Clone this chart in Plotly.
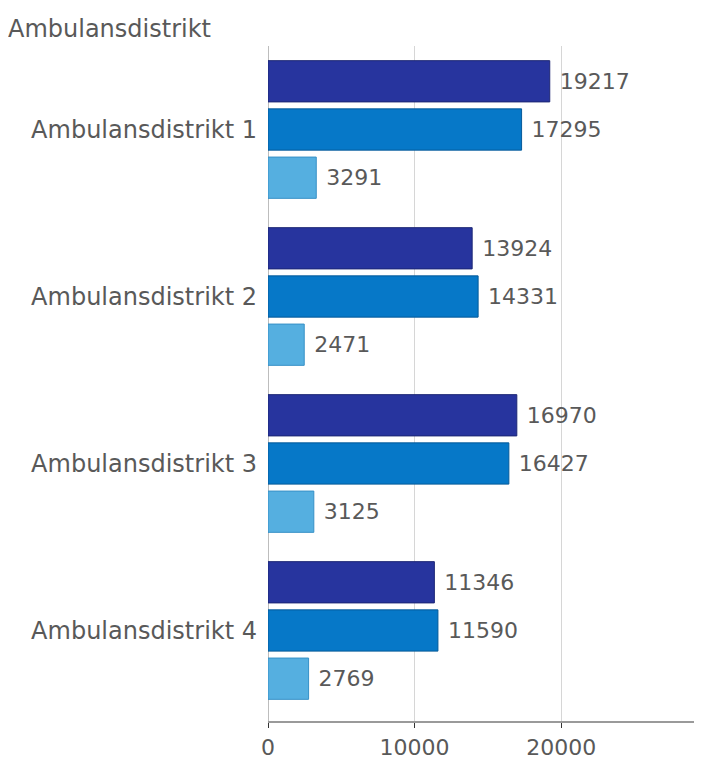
import plotly.graph_objects as go

categories = ["Ambulansdistrikt 1", "Ambulansdistrikt 2", "Ambulansdistrikt 3", "Ambulansdistrikt 4"]
series_a = [19217, 13924, 16970, 11346]
series_b = [17295, 14331, 16427, 11590]
series_c = [3291, 2471, 3125, 2769]
tick_vals = [0, 10000, 20000]
tick_text = ["0", "10000", "20000"]
title_text = "Ambulansdistrikt"

colors = ["#27349e", "#0678c8", "#55afe0"]
edge = ["#1c2675", "#055a99", "#3690c6"]
FONT = "DejaVu Sans, sans-serif"
TXT = "#595959"

fig = go.Figure()
for vals, c, e in zip([series_a, series_b, series_c], colors, edge):
    fig.add_trace(go.Bar(
        y=categories, x=vals, orientation="h",
        marker=dict(color=c, line=dict(color=e, width=1)),
        text=[str(v) for v in vals], texttemplate=" %{text}", textposition="outside",
        textfont=dict(size=22, color=TXT, family=FONT),
        cliponaxis=False, showlegend=False, hoverinfo="x+y",
    ))

# page body has an 8px margin: figure is 694x752, offset by 8px
fig.update_layout(
    width=694, height=752,
    margin=dict(l=260, r=0, t=38, b=35),
    barmode="group", bargap=0.134, bargroupgap=0.144,
    plot_bgcolor="white", paper_bgcolor="white",
    font=dict(family=FONT, color=TXT),
    title=dict(text=title_text, x=0, xanchor="left", xref="container",
               y=1 - 21 / 752, yanchor="middle", pad=dict(l=0, t=0, b=0, r=0),
               font=dict(size=24, color=TXT, family=FONT)),
)
fig.update_xaxes(
    range=[0, 29600], tickvals=tick_vals, ticktext=tick_text,
    showgrid=True, gridcolor="#d6d6d6", gridwidth=1,
    zeroline=True, zerolinecolor="#bdbdbd", zerolinewidth=1,
    showline=True, linecolor="#9a9a9a", linewidth=1.5,
    ticks="outside", ticklen=5, tickcolor="#333333", ticklabelstandoff=1,
    tickfont=dict(size=22, color=TXT, family=FONT),
)
fig.update_yaxes(
    range=[3.542, -0.5], showgrid=False, ticks="", ticklabelstandoff=10,
    tickfont=dict(size=24, color=TXT, family=FONT),
)

fig.write_html("out.html")
